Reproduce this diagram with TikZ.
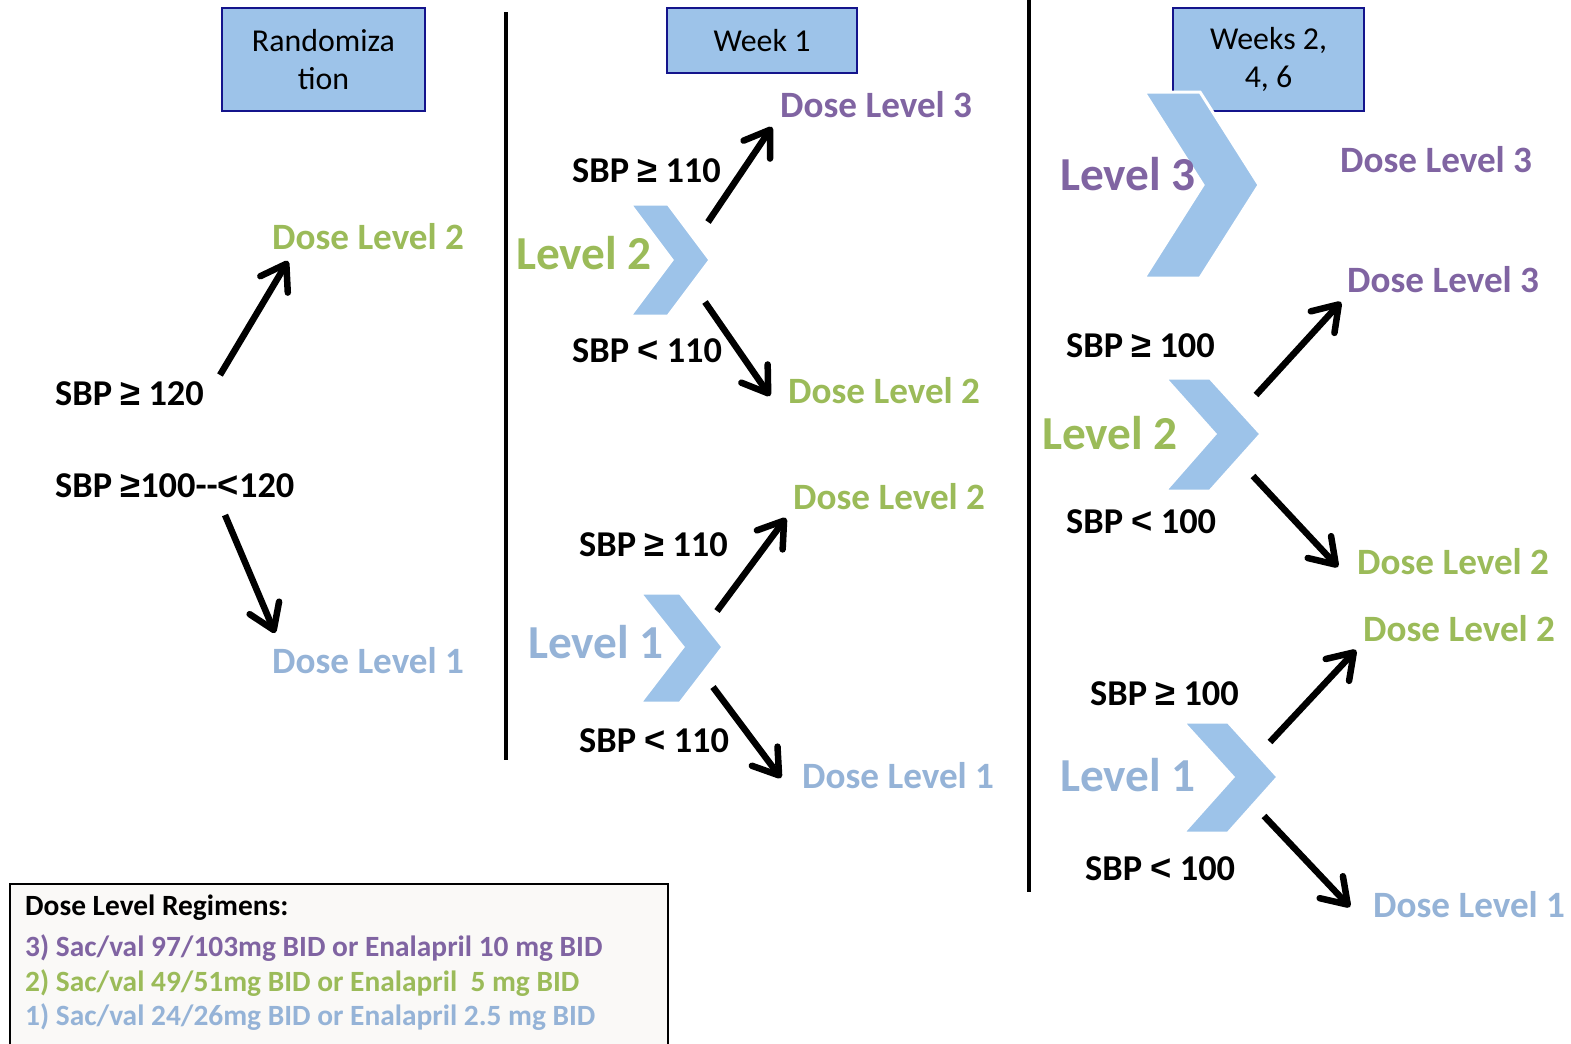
\documentclass[tikz,border=0pt]{standalone}
\usepackage{fontspec}
\setmainfont{Carlito}
\newfontfamily\relfont{Liberation Sans}[Scale=1.0]
\newcommand\relge{{\relfont\bfseries ≥}}
\newcommand\rellt{{\relfont\bfseries <}}
\usetikzlibrary{arrows.meta}
\definecolor{dlpurple}{RGB}{128,100,162}
\definecolor{dlgreen}{RGB}{155,187,89}
\definecolor{dlblue}{RGB}{149,179,215}
\definecolor{chevfill}{RGB}{157,195,233}
\definecolor{boxfill}{RGB}{157,195,233}
\definecolor{boxline}{RGB}{20,20,140}
\definecolor{legfill}{RGB}{250,249,247}
\tikzset{
  lbl/.style={inner sep=0pt, anchor=base west, font=\fontsize{36.5}{40}\selectfont\bfseries},
  dose/.style={lbl, font=\fontsize{37.3}{44}\selectfont\bfseries},
  big/.style={lbl, font=\fontsize{47.5}{55}\selectfont\bfseries},
  leg/.style={inner sep=0pt, anchor=base west, font=\fontsize{29.5}{32}\selectfont\bfseries},
  hdr/.style={draw=boxline, fill=boxfill, line width=2bp, inner sep=0pt, align=center,
              font=\fontsize{32}{39}\selectfont},
  chev/.style={fill=chevfill, draw=white, line width=3bp, line join=miter},
  arr/.style={line width=6.5bp, line cap=butt,
              -{Straight Barb[length=24bp,width=32bp,round]}},
  divider/.style={line width=3.5bp}
}
\begin{document}
\begin{tikzpicture}[x=1bp,y=-1bp]
\useasboundingbox (0,0) rectangle (1571,1043);
\clip (0,0) rectangle (1571,1043);

% column dividers
\draw[divider] (506,12) -- (506,760);
\draw[divider] (1029,0) -- (1029,892);

% column headers
\node[hdr, minimum width=203bp, minimum height=103bp] (hrand) at (323.5,59.5) {Randomiza\\tion};
\node[hdr, minimum width=190bp, minimum height=65bp] (hweek1) at (762,40.5) {Week 1};
\node[hdr, minimum width=191bp, minimum height=103bp] (hweeks) at (1268.5,59.5) {Weeks 2,\\4, 6};

% chevrons
\path[chev] (630,204) -- (668,204) -- (710,260) -- (668,316) -- (630,316) -- (672,260) -- cycle;
\path[chev] (640,593) -- (680,593) -- (723,647) -- (680,703) -- (640,703) -- (683,647) -- cycle;
\path[chev] (1144,92) -- (1200,92) -- (1259,185) -- (1200,278) -- (1144,278) -- (1203,185) -- cycle;
\path[chev] (1165,378) -- (1210,378) -- (1261,434) -- (1210,491) -- (1165,491) -- (1215,434) -- cycle;
\path[chev] (1183,722) -- (1228,722) -- (1278,777) -- (1228,833) -- (1183,833) -- (1233,777) -- cycle;

% randomization column
\node[dose, text=dlgreen] (dlA2) at (272,249) {Dose Level 2};
\node[lbl] (cA1) at (55,405) {SBP \relge{} 120};
\node[lbl] (cA2) at (55,497) {SBP \relge{}100-{}-\rellt{}120};
\node[dose, text=dlblue] (dlA1) at (272,673) {Dose Level 1};

% week 1 column
\node[dose, text=dlpurple] (dlB3) at (780,117) {Dose Level 3};
\node[lbl] (cB1) at (572,182) {SBP \relge{} 110};
\node[big, text=dlgreen] (lvB2) at (516,269) {Level 2};
\node[lbl] (cB2) at (572,362) {SBP \rellt{} 110};
\node[dose, text=dlgreen] (dlB2) at (788,403) {Dose Level 2};
\node[dose, text=dlgreen] (dlB2b) at (793,509) {Dose Level 2};
\node[lbl] (cB3) at (579,556) {SBP \relge{} 110};
\node[big, text=dlblue] (lvB1) at (528,658) {Level 1};
\node[lbl] (cB4) at (579,752) {SBP \rellt{} 110};
\node[dose, text=dlblue] (dlB1) at (802,788) {Dose Level 1};

% weeks 2, 4, 6 column
\node[big, text=dlpurple] (lvC3) at (1060,190) {Level 3};
\node[dose, text=dlpurple] (dlC3) at (1340,172) {Dose Level 3};
\node[dose, text=dlpurple] (dlC3b) at (1347,292) {Dose Level 3};
\node[lbl] (cC1) at (1066,357) {SBP \relge{} 100};
\node[big, text=dlgreen] (lvC2) at (1042,449) {Level 2};
\node[lbl] (cC2) at (1066,533) {SBP \rellt{} 100};
\node[dose, text=dlgreen] (dlC2) at (1357,574) {Dose Level 2};
\node[dose, text=dlgreen] (dlC2b) at (1363,641) {Dose Level 2};
\node[lbl] (cC3) at (1090,705) {SBP \relge{} 100};
\node[big, text=dlblue] (lvC1) at (1060,791) {Level 1};
\node[lbl] (cC4) at (1085,880) {SBP \rellt{} 100};
\node[dose, text=dlblue] (dlC1) at (1373,917) {Dose Level 1};

% arrow end points
\coordinate (tA1) at (220,375); \coordinate (hA1) at (288,261);
\coordinate (tA2) at (225,515); \coordinate (hA2) at (275,633);
\coordinate (tB1) at (708,222); \coordinate (hB1) at (772,127);
\coordinate (tB2) at (705,302); \coordinate (hB2) at (770,396);
\coordinate (tB3) at (717,611); \coordinate (hB3) at (786,518);
\coordinate (tB4) at (713,687); \coordinate (hB4) at (781,778);
\coordinate (tC1) at (1256,395); \coordinate (hC1) at (1341,302);
\coordinate (tC2) at (1253,476); \coordinate (hC2) at (1338,567);
\coordinate (tC3) at (1270,742); \coordinate (hC3) at (1356,650);
\coordinate (tC4) at (1264,816); \coordinate (hC4) at (1350,907);

\foreach \p in {A1,A2,B1,B2,B3,B4,C1,C2,C3,C4}
  \draw[arr] (t\p) -- (h\p);

% regimen legend
\draw[line width=2bp, fill=legfill] (10,884) rectangle (668,1070);
\node[leg] (legH) at (25,915) {Dose Level Regimens:};
\node[leg, text=dlpurple] (leg3) at (25,956) {3) Sac/val 97/103mg BID or Enalapril 10 mg BID};
\node[leg, text=dlgreen] (leg2) at (25,991) {2) Sac/val 49/51mg BID or Enalapril\ \ 5 mg BID};
\node[leg, text=dlblue] (leg1) at (25,1025) {1) Sac/val 24/26mg BID or Enalapril 2.5 mg BID};
\end{tikzpicture}
\end{document}
